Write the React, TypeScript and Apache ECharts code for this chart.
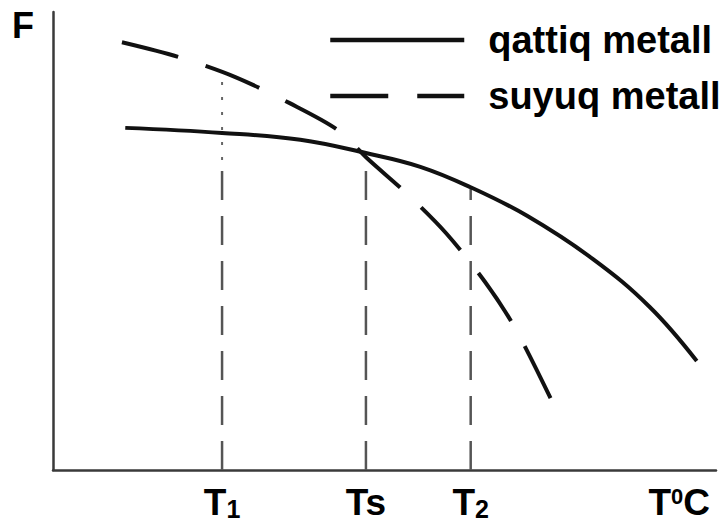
import React, { useEffect, useRef } from 'react';
import * as echarts from 'echarts';

// Solid curve (qattiq metall)
const solidX = [10.9, 25.5, 37.3, 47.2, 55.4, 62.9, 71.5, 81.4, 90.0, 97.1];
const solidY = [74.7, 73.6, 72.1, 69.2, 66.2, 61.8, 55.5, 46.1, 35.6, 23.8];
// Dashed curve (suyuq metall)
const dashX = [10.4, 18.9, 27.5, 35.7, 43.0, 47.5, 53.4, 59.3, 65.2, 69.7, 75.4];
const dashY = [93.4, 90.2, 85.8, 80.1, 74.2, 67.9, 60.3, 51.7, 41.0, 31.0, 14.6];
// Vertical guide lines (T1, Ts, T2)
const guideX = [25.5, 47.2, 63.0];
const guideTop = [65.9, 69.2, 61.6];
// dotted upper part of the T1 guide
const t1DotFrom = 67.7;
const t1DotTo = 85.6;
// Tick labels
const tickMain = ['T', 'Ts', 'T'];
const tickSub = ['1', '', '2'];
const seriesNames = ['qattiq metall', 'suyuq metall'];

const FONT = '"Liberation Sans", Arial, sans-serif';

export default function App() {
  const ref = useRef<HTMLDivElement>(null);
  useEffect(() => {
    if (!ref.current) return;
    const chart = echarts.init(ref.current, null, { renderer: 'svg' });
    const rich = {
      t: { fontSize: 37, fontWeight: 'bold', fontFamily: FONT, color: '#000', lineHeight: 36, verticalAlign: 'bottom' },
      sub: { fontSize: 25, fontWeight: 'bold', fontFamily: FONT, color: '#000', lineHeight: 14, verticalAlign: 'bottom' },
      sup: { fontSize: 22, fontWeight: 'bold', fontFamily: FONT, color: '#000', lineHeight: 20, verticalAlign: 'top' },
    };
    const guideStyle = { color: '#555', width: 2.5, type: [29, 16] as number[] };
    const guideSeries = guideX.map((x, i) => ({
      type: 'line',
      data: [[x, 0], [x, guideTop[i]]],
      symbol: 'none',
      silent: true,
      lineStyle: guideStyle,
      z: 1,
    }));
    const legendText = { fontSize: 38, fontWeight: 'bold', color: '#000', fontFamily: FONT, lineHeight: 38 };
    const option = {
      animation: false,
      backgroundColor: '#fff',
      grid: { left: 53, top: 12, right: 9, bottom: 56, containLabel: false, outerBoundsMode: 'none' },
      legend: {
        orient: 'vertical',
        left: 328,
        top: 21,
        padding: 0,
        itemWidth: 134,
        itemHeight: 1,
        itemGap: 11.5,
        lineStyle: { width: 4.5, color: '#111' },
        itemStyle: { color: '#111', opacity: 0 },
        textStyle: { ...legendText, padding: [0, 0, 0, 19] },
        data: [
          { name: seriesNames[0] },
          { name: seriesNames[1], textStyle: { ...legendText, padding: [0, 0, 13, 19] } },
        ],
      },
      xAxis: {
        type: 'value',
        min: 0,
        max: 100,
        axisLine: { show: true, lineStyle: { color: '#3a3a3a', width: 2.5 } },
        axisTick: { show: false },
        splitLine: { show: false },
        axisLabel: {
          customValues: guideX,
          margin: 15,
          formatter: (v: number) => {
            const i = guideX.indexOf(v);
            if (i < 0) return '';
            return '{t|' + tickMain[i] + '}' + (tickSub[i] ? '{sub|' + tickSub[i] + '}' : '');
          },
          rich,
        },
        name: '{t|T}{sup|0}{t|C}',
        nameLocation: 'end',
        nameGap: -6,
        nameTextStyle: { align: 'right', verticalAlign: 'top', padding: [15, 0, 0, 0], rich },
      },
      yAxis: {
        type: 'value',
        min: 0,
        max: 100,
        axisLine: { show: true, lineStyle: { color: '#3a3a3a', width: 2.5 } },
        axisTick: { show: false },
        axisLabel: { show: false },
        splitLine: { show: false },
        name: 'F',
        nameLocation: 'end',
        nameGap: 5,
        nameTextStyle: {
          fontSize: 36, fontWeight: 'bold', fontFamily: FONT, color: '#000',
          align: 'right', verticalAlign: 'top', padding: [0, 19, 0, 0], lineHeight: 36,
        },
      },
      series: [
        ...guideSeries,
        {
          type: 'line',
          data: [[guideX[0], t1DotFrom], [guideX[0], t1DotTo]],
          symbol: 'none',
          silent: true,
          lineStyle: { color: '#666', width: 2, type: [3, 12] },
          z: 1,
        },
        {
          name: seriesNames[0],
          type: 'line',
          data: solidX.map((x, i) => [x, solidY[i]]),
          smooth: 0.4,
          symbol: 'none',
          color: '#111',
          itemStyle: { color: '#111' },
          lineStyle: { color: '#111', width: 4 },
          z: 3,
        },
        {
          name: seriesNames[1],
          type: 'line',
          data: dashX.map((x, i) => [x, dashY[i]]),
          smooth: 0.3,
          symbol: 'none',
          color: '#111',
          itemStyle: { color: '#111' },
          lineStyle: { color: '#111', width: 4, type: [58, 29] },
          z: 3,
        },
      ],
    };
    chart.setOption(option as any);
    return () => chart.dispose();
  }, []);
  return (
    <div
      ref={ref}
      style={{ position: 'absolute', left: 0, top: 0, width: 725, height: 526, background: '#fff' }}
    />
  );
}
